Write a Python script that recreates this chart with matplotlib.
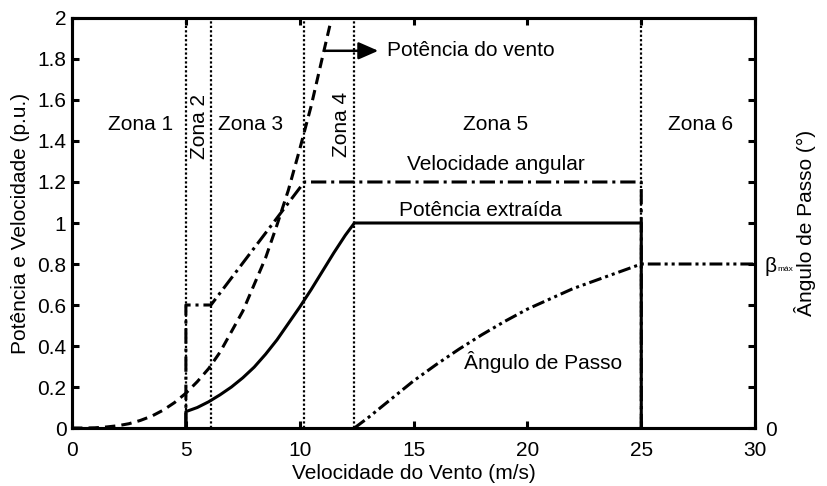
import numpy as np
import matplotlib
matplotlib.use("Agg")
import matplotlib.pyplot as plt

plt.rcParams["font.family"] = ["Liberation Sans", "DejaVu Sans"]
plt.rcParams["font.size"] = 15

# Wind power (dashed)
v_wind = [0, 0.5, 1, 1.5, 2, 2.5, 3, 3.5, 4, 4.5, 5, 5.5, 6, 6.5, 7, 7.5,
          8, 8.5, 9, 9.5, 10, 10.5, 11, 11.4]
p_wind = [0, 0, 0.001, 0.005, 0.011, 0.021, 0.037, 0.058, 0.087, 0.124, 0.17,
          0.226, 0.29, 0.37, 0.47, 0.57, 0.70, 0.83, 0.99, 1.16, 1.36, 1.57,
          1.81, 2.0]

# Extracted power (solid)
v_ext = [5, 5, 5.5, 6, 6.5, 7, 7.5, 8, 8.5, 9, 9.5, 10, 10.5, 11, 11.5, 12,
         12.4, 25, 25]
p_ext = [0, 0.08, 0.10, 0.128, 0.162, 0.20, 0.245, 0.297, 0.36, 0.43, 0.51, 0.59,
         0.675, 0.765, 0.855, 0.94, 1.0, 1.0, 0]

# Angular speed (dash-dot)
v_ang = [5, 5, 6.1, 10.2, 25, 25]
w_ang = [0, 0.6, 0.6, 1.2, 1.2, 0]

# Pitch angle (dash-dot-dot)
v_pitch = [12.4, 13, 14, 15, 16, 17, 18, 19, 20, 21, 22, 23, 24, 25, 30]
b_pitch = [0, 0.05, 0.14, 0.23, 0.31, 0.385, 0.455, 0.52, 0.58, 0.63, 0.68,
           0.72, 0.76, 0.80, 0.80]

# Zone limits
zone_edges = [5, 6.1, 10.2, 12.4, 25]

fig = plt.figure(figsize=(8.28, 4.86), dpi=100)
ax = fig.add_axes([0.087, 0.1193, 0.825, 0.8437])

lw = 2.2
for xe in zone_edges:
    ax.plot([xe, xe], [0, 2], color="black", lw=1.6, linestyle=(0, (1, 1)))

ax.plot(v_wind, p_wind, color="black", lw=lw, linestyle=(0, (3.4, 2.0)))
ax.plot(v_ang, w_ang, color="black", lw=lw, linestyle=(0, (5.0, 1.6, 1, 1.6)))
ax.plot(v_pitch, b_pitch, color="black", lw=lw, linestyle=(0, (4.2, 1.3, 1, 1.3, 1, 1.3)))
ax.plot(v_ext, p_ext, color="black", lw=lw, solid_capstyle="butt", solid_joinstyle="round")

ax.set_xlim(0, 30)
ax.set_ylim(0, 2)
ax.set_xticks(range(0, 31, 5))
ax.set_yticks(np.arange(0, 2.01, 0.2))
ax.set_yticklabels(["0", "0.2", "0.4", "0.6", "0.8", "1", "1.2", "1.4", "1.6", "1.8", "2"])
ax.tick_params(direction="in", length=5, width=2.2, top=True, labelsize=15)
ax.tick_params(axis="x", pad=9)
ax.tick_params(axis="y", pad=4)
for s in ax.spines.values():
    s.set_linewidth(2.2)
ax.set_xlabel("Velocidade do Vento (m/s)", fontsize=15, labelpad=3)
ax.set_ylabel("Potência e Velocidade (p.u.)", fontsize=15, labelpad=5)

ax2 = ax.twinx()
ax2.set_ylim(0, 2)
ax2.set_yticks(np.arange(0, 2.01, 0.2))
r_labels = [""] * 11
r_labels[0] = "0"
r_labels[4] = "β"
ax2.set_yticklabels(r_labels)
ax2.tick_params(direction="in", length=5, width=2.2, labelsize=15, pad=7)
for s in ax2.spines.values():
    s.set_linewidth(2.2)
ax2.set_ylabel("Ângulo de Passo (°)", fontsize=15, labelpad=12)
ax2.annotate("máx", xy=(1, 0.8), xycoords=("axes fraction", "data"),
             xytext=(16, -4), textcoords="offset points", fontsize=6,
             ha="left", va="center")

# zone labels
ax.text(3.0, 1.48, "Zona 1", ha="center", va="center")
ax.text(5.6, 1.47, "Zona 2", ha="center", va="center", rotation=90)
ax.text(7.85, 1.48, "Zona 3", ha="center", va="center")
ax.text(11.85, 1.48, "Zona 4", ha="center", va="center", rotation=90)
ax.text(18.6, 1.48, "Zona 5", ha="center", va="center")
ax.text(27.6, 1.48, "Zona 6", ha="center", va="center")

ax.text(18.6, 1.285, "Velocidade angular", ha="center", va="center")
ax.text(17.95, 1.06, "Potência extraída", ha="center", va="center")
ax.text(20.7, 0.32, "Ângulo de Passo", ha="center", va="center")

ax.annotate("", xy=(13.45, 1.84), xytext=(11.1, 1.84),
            arrowprops=dict(arrowstyle="-|>,head_length=0.8,head_width=0.35",
                            color="black", lw=1.8, shrinkA=0, shrinkB=0))
ax.text(13.85, 1.84, "Potência do vento", ha="left", va="center")

fig.savefig("out.png", dpi=100)
